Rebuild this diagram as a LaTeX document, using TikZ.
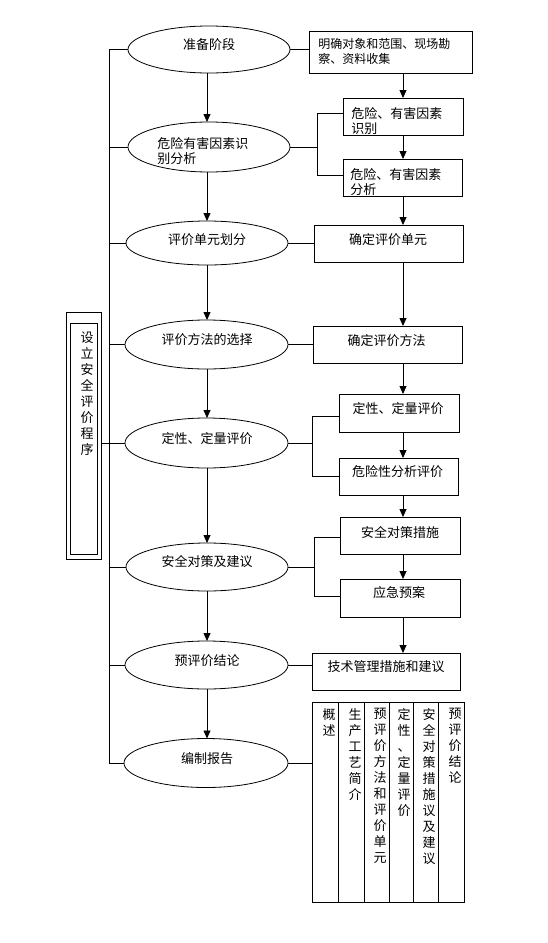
\documentclass[tikz,border=0pt]{standalone}
\usepackage{fontspec}
\setmainfont{Noto Sans CJK SC}
\usetikzlibrary{arrows.meta,shapes.geometric,fit}
\begin{document}
\begin{tikzpicture}[x=1pt,y=-1pt,line width=0.8pt,
  shp/.style={draw,inner sep=0pt,outer sep=0pt},
  ell/.style={draw,ellipse,inner sep=0pt,outer sep=0pt,minimum width=163pt,minimum height=48pt},
  lbl/.style={inner sep=0pt,font=\fontsize{13}{15}\selectfont,align=left},
  vtxt/.style={inner sep=0pt,font=\fontsize{13}{16}\selectfont,align=center,anchor=north},
  arr/.style={-{Triangle[width=7pt,length=8pt]}}]
\useasboundingbox[fill=white] (0,0) rectangle (547,943);

% ellipses
\node[ell,minimum width=162pt,minimum height=47pt] (e1) at (209,49.5) {};
\node[ell,minimum width=162pt,minimum height=50pt] (e2) at (209,147) {};
\node[ell,minimum width=162pt,minimum height=44pt] (e3) at (207,243) {};
\node[ell,minimum height=49pt] (e4) at (206.5,344.5) {};
\node[ell,minimum height=50pt] (e5) at (206.5,443) {};
\node[ell,minimum width=162pt] (e6) at (207,567) {};
\node[ell] (e7) at (206.5,665) {};
\node[ell,minimum width=164pt,minimum height=49pt] (e8) at (206,763) {};

\node[lbl] (te1) at (209,45) {准备阶段};
\node[lbl,anchor=west] (te2) at (157,151.5) {危险有害因素识\\别分析};
\node[lbl] (te3) at (207,240) {评价单元划分};
\node[lbl] (te4) at (207,340) {评价方法的选择};
\node[lbl] (te5) at (207,439) {定性、定量评价};
\node[lbl] (te6) at (207,562) {安全对策及建议};
\node[lbl] (te7) at (207,661) {预评价结论};
\node[lbl] (te8) at (207,759) {编制报告};

% boxes
\node[shp,fit={(309,31)(472,73)}] (b1) {};
\node[shp,fit={(343,98)(463,135)}] (b2) {};
\node[shp,fit={(343,159)(462,196)}] (b3) {};
\node[shp,fit={(314,225)(463,262)}] (b4) {};
\node[shp,fit={(313,326)(462,363)}] (b5) {};
\node[shp,fit={(339,394)(459,432)}] (b6) {};
\node[shp,fit={(339,458)(458,495)}] (b7) {};
\node[shp,fit={(340,517)(460,554)}] (b8) {};
\node[shp,fit={(340,579)(460,617)}] (b9) {};
\node[shp,fit={(312,653)(460,690)}] (b10) {};

\node[lbl,anchor=west,font=\fontsize{12}{15}\selectfont] (tb1) at (318,51.5) {明确对象和范围、现场勘\\察、资料收集};
\node[lbl,anchor=west] (tb2) at (351,121.5) {危险、有害因素\\识别};
\node[lbl,anchor=west] (tb3) at (350,182.5) {危险、有害因素\\分析};
\node[lbl] (tb4) at (388,240) {确定评价单元};
\node[lbl] (tb5) at (386.5,341) {确定评价方法};
\node[lbl] (tb6) at (398,409) {定性、定量评价};
\node[lbl] (tb7) at (397.5,472) {危险性分析评价};
\node[lbl] (tb8) at (400,532) {安全对策措施};
\node[lbl] (tb9) at (399,593) {应急预案};
\node[lbl] (tb10) at (386,667) {技术管理措施和建议};

% report table
\node[shp,fit={(312,702)(464,902)}] (tb) {};
\foreach \x in {338,364,389,413,438} \draw (\x,702) -- (\x,902);
\node[vtxt] (c1) at (329,708) {概\\述};
\node[vtxt] (c2) at (355,708) {生\\产\\工\\艺\\简\\介};
\node[vtxt] (c3) at (380,708) {预\\评\\价\\方\\法\\和\\评\\价\\单\\元};
\node[vtxt] (c4) at (404,708) {定\\性\\、\\定\\量\\评\\价};
\node[vtxt] (c5) at (429,708) {安\\全\\对\\策\\措\\施\\议\\及\\建\\议};
\node[vtxt] (c6) at (455,708) {预\\评\\价\\结\\论};

% left box
\node[shp,fit={(66,312)(101,559)}] (lbo) {};
\node[shp,fit={(70,323)(97,554)}] (lbi) {};
\node[vtxt] (lbt) at (87,331) {设\\立\\安\\全\\评\\价\\程\\序};

% spine
\coordinate (spT) at (109,49.5);
\coordinate (spB) at (109,763);
\draw (spT) -- (spB);
\foreach \e in {e1,e2,e3,e4,e5,e6,e7,e8} \draw (\e.west) -- (\e.west -| spT);
\draw (lbo.east |- e5.west) -- (spT |- e5.west);

% left arrows
\coordinate (lc) at (207,0);
\draw[arr] (e1.south -| lc) -- (e2.north -| lc);
\draw[arr] (e2.south -| lc) -- (e3.north -| lc);
\draw[arr] (e3.south -| lc) -- (e4.north -| lc);
\draw[arr] (e4.south -| lc) -- (e5.north -| lc);
\draw[arr] (e5.south -| lc) -- (e6.north -| lc);
\draw[arr] (e6.south -| lc) -- (e7.north -| lc);
\draw[arr] (e7.south -| lc) -- (e8.north -| lc);

% right arrows
\coordinate (rc) at (403,0);
\draw[arr] (b1.south -| rc) -- (b2.north -| rc);
\draw[arr] (b2.south -| rc) -- (b3.north -| rc);
\draw[arr] (b3.south -| rc) -- (b4.north -| rc);
\draw[arr] (b4.south -| rc) -- (b5.north -| rc);
\draw[arr] (b5.south -| rc) -- (b6.north -| rc);
\draw[arr] (b6.south -| rc) -- (b7.north -| rc);
\draw[arr] (b7.south -| rc) -- (b8.north -| rc);
\draw[arr] (b8.south -| rc) -- (b9.north -| rc);
\draw[arr] (b9.south -| rc) -- (b10.north -| rc);

% direct links
\draw (e1.east) -- (e1.east -| b1.west);
\draw (e3.east) -- (e3.east -| b4.west);
\draw (e4.east) -- (e4.east -| b5.west);
\draw (e7.east) -- (e7.east -| b10.west);
\draw (e8.east) -- (e8.east -| tb.west);

% brackets
\coordinate (k2a) at (317,113); \coordinate (k2b) at (317,175);
\draw (e2.east) -- (e2.east -| k2a);
\draw (b2.west |- k2a) -- (k2a) -- (k2b) -- (b3.west |- k2b);
\coordinate (k5a) at (312,416); \coordinate (k5b) at (312,476);
\draw (e5.east) -- (e5.east -| k5a);
\draw (b6.west |- k5a) -- (k5a) -- (k5b) -- (b7.west |- k5b);
\coordinate (k6a) at (314,537); \coordinate (k6b) at (314,596);
\draw (e6.east) -- (e6.east -| k6a);
\draw (b8.west |- k6a) -- (k6a) -- (k6b) -- (b9.west |- k6b);
\end{tikzpicture}
\end{document}
